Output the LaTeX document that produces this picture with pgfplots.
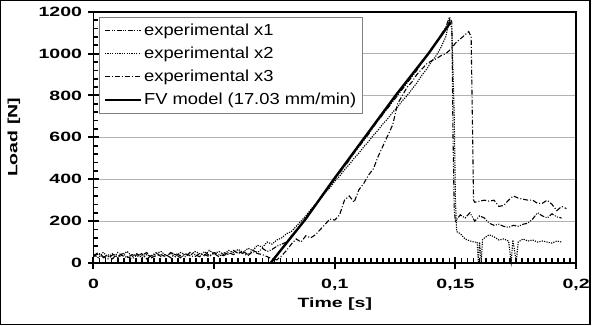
\documentclass[border=0pt]{standalone}
\usepackage{fontspec}
\setmainfont{Liberation Sans}
\newfontfamily\tickfont[FakeStretch=1.45]{Liberation Sans}
\newfontfamily\legfont[FakeStretch=1.15]{Liberation Sans}
\usepackage{pgfplots}
\usetikzlibrary{plotmarks}
\pgfplotsset{compat=1.18}
\begin{document}
\begin{tikzpicture}
\begin{axis}[
  width=484pt, height=252pt, scale only axis, clip=false,
  xmin=0, xmax=0.2, ymin=0, ymax=1200,
  xtick={0,0.05,0.1,0.15,0.2},
  xticklabels={0,{0,05},{0,1},{0,15},{0,2}},
  ytick={0,200,400,600,800,1000,1200},
  yticklabels={0,200,400,600,800,1000,1200},
  tick align=outside,
  xtick pos=bottom, ytick pos=left,
  major tick length=0pt, minor tick length=0pt,
  axis line style={line width=1.6pt},
  ymajorgrids, major grid style={gray!60, line width=0.9pt},
  tick label style={font=\tickfont\bfseries\fontsize{13.5}{15}\selectfont},
  xticklabel style={yshift=-13pt},
  yticklabel style={xshift=-8pt},
  label style={font=\tickfont\bfseries\fontsize{13.5}{15}\selectfont},
  xlabel={Time [s]}, ylabel={Load [N]},
  xlabel style={at={(axis description cs:0.5,-0.163)}, anchor=center},
  ylabel style={at={(axis description cs:-0.165,0.5)}, anchor=center},
  legend style={at={(rel axis cs:0.0124,0.98)}, anchor=north west,
    draw=gray, line width=0.8pt, fill=white,
    font=\legfont\fontsize{16}{17}\selectfont, row sep=6pt,
    inner xsep=4pt, inner ysep=5pt},
  legend cell align=left,
  legend image code/.code={\draw[#1] (0pt,0pt) -- (36pt,0pt);},
]
% tick marks (major crossing the axes, minor inside)
\addplot[draw=none, mark=|, mark size=6pt, mark options={solid, draw=black, line width=2pt}, forget plot] coordinates {
(0,0)(0.05,0)(0.1,0)(0.15,0)(0.2,0)};
\addplot[draw=none, mark=-, mark size=5.5pt, mark options={solid, draw=black, line width=2pt}, forget plot] coordinates {
(0,0)(0,200)(0,400)(0,600)(0,800)(0,1000)(0,1200)};
\addplot[draw=none, mark=|, mark size=2.6pt, mark options={solid, draw=black, line width=1.8pt}, forget plot] coordinates {
(0.0025,10)(0.005,10)(0.0075,10)(0.01,10)(0.0125,10)(0.015,10)(0.0175,10)(0.02,10)(0.0225,10)(0.025,10)
(0.0275,10)(0.03,10)(0.0325,10)(0.035,10)(0.0375,10)(0.04,10)(0.0425,10)(0.045,10)(0.0475,10)
(0.0525,10)(0.055,10)(0.0575,10)(0.06,10)(0.0625,10)(0.065,10)(0.0675,10)(0.07,10)(0.0725,10)(0.075,10)
(0.0775,10)(0.08,10)(0.0825,10)(0.085,10)(0.0875,10)(0.09,10)(0.0925,10)(0.095,10)(0.0975,10)
(0.1025,10)(0.105,10)(0.1075,10)(0.11,10)(0.1125,10)(0.115,10)(0.1175,10)(0.12,10)(0.1225,10)(0.125,10)
(0.1275,10)(0.13,10)(0.1325,10)(0.135,10)(0.1375,10)(0.14,10)(0.1425,10)(0.145,10)(0.1475,10)
(0.1525,10)(0.155,10)(0.1575,10)(0.16,10)(0.1625,10)(0.165,10)(0.1675,10)(0.17,10)(0.1725,10)(0.175,10)
(0.1775,10)(0.18,10)(0.1825,10)(0.185,10)(0.1875,10)(0.19,10)(0.1925,10)(0.195,10)(0.1975,10)
};
\addplot[draw=none, mark=-, mark size=2.8pt, mark options={solid, draw=black, line width=1.6pt}, forget plot] coordinates {
(0.0009,40)(0.0009,80)(0.0009,120)(0.0009,160)(0.0009,240)(0.0009,280)(0.0009,320)(0.0009,360)
(0.0009,440)(0.0009,480)(0.0009,520)(0.0009,560)(0.0009,640)(0.0009,680)(0.0009,720)(0.0009,760)
(0.0009,840)(0.0009,880)(0.0009,920)(0.0009,960)(0.0009,1040)(0.0009,1080)(0.0009,1120)(0.0009,1160)
};
% experimental x1
\addplot[black, line width=1.1pt, dash pattern=on 5pt off 1.5pt on 1pt off 1.5pt on 1pt off 1.5pt] coordinates {
(0,30)(0.002,45)(0.004,25)(0.006,40)(0.008,20)(0.010,50)(0.012,35)(0.014,25)(0.016,40)(0.018,30)
(0.020,45)(0.022,20)(0.024,35)(0.026,50)(0.028,30)(0.030,40)(0.032,25)(0.034,45)(0.036,35)(0.038,30)
(0.040,50)(0.042,40)(0.044,30)(0.046,55)(0.048,35)(0.050,45)(0.052,30)(0.054,50)(0.056,40)(0.058,60)
(0.060,45)(0.062,55)(0.064,40)(0.066,60)(0.068,50)(0.070,70)(0.072,55)(0.074,65)(0.076,80)
(0.078,90)(0.080,100)(0.082,130)(0.084,150)(0.086,185)(0.088,215)(0.090,250)(0.092,275)(0.094,310)
(0.096,340)(0.098,370)(0.100,400)(0.102,430)(0.104,460)(0.106,490)(0.108,525)(0.110,555)(0.112,585)
(0.114,615)(0.116,650)(0.118,680)(0.120,710)(0.122,740)(0.124,770)(0.126,800)(0.128,830)(0.130,860)
(0.132,890)(0.134,920)(0.136,955)(0.138,985)(0.140,1020)(0.142,1055)(0.144,1090)(0.146,1125)
(0.1475,1175)(0.1485,1150)(0.149,600)(0.1495,250)(0.150,200)
(0.152,230)(0.154,215)(0.156,240)(0.158,200)(0.160,225)(0.162,215)(0.164,190)(0.166,180)(0.168,185)
(0.170,175)(0.172,170)(0.174,180)(0.176,175)(0.178,185)(0.180,190)(0.182,210)(0.184,240)(0.186,225)
(0.188,215)(0.190,235)(0.192,220)(0.194,215)
};
\addlegendentry{experimental x1}
% experimental x2
\addplot[black, line width=1.1pt, dash pattern=on 1.2pt off 1.2pt] coordinates {
(0,40)(0.002,25)(0.004,50)(0.006,30)(0.008,45)(0.010,25)(0.012,40)(0.014,55)(0.016,30)(0.018,45)
(0.020,25)(0.022,40)(0.024,30)(0.026,45)(0.028,55)(0.030,35)(0.032,45)(0.034,30)(0.036,50)(0.038,40)
(0.040,35)(0.042,55)(0.044,45)(0.046,35)(0.048,60)(0.050,45)(0.052,55)(0.054,40)(0.056,60)(0.058,50)
(0.060,65)(0.062,50)(0.064,70)(0.066,60)(0.068,85)(0.070,75)(0.072,100)(0.074,90)(0.076,110)
(0.078,120)(0.080,140)(0.082,150)(0.084,175)(0.086,200)(0.088,225)(0.090,255)(0.092,280)(0.094,305)
(0.096,335)(0.098,360)(0.100,390)(0.102,415)(0.104,445)(0.106,470)(0.108,500)(0.110,525)(0.112,555)
(0.114,580)(0.116,610)(0.118,635)(0.120,665)(0.122,690)(0.124,720)(0.126,745)(0.128,775)(0.130,800)
(0.132,830)(0.134,860)(0.136,895)(0.138,925)(0.140,960)(0.142,990)(0.144,1030)(0.146,1080)
(0.1475,1160)(0.1485,1120)(0.1495,700)(0.150,300)(0.1505,150)
(0.152,140)(0.154,115)(0.156,105)(0.158,100)(0.159,100)(0.1595,5)(0.1600,100)(0.1607,5)(0.1612,110)
(0.162,120)(0.164,135)(0.166,125)(0.168,110)(0.170,115)(0.172,105)(0.1731,5)(0.1738,110)(0.1752,5)
(0.176,100)(0.178,115)(0.180,105)(0.182,110)(0.184,100)(0.186,105)(0.188,100)(0.190,95)(0.192,105)(0.194,100)
};
\addlegendentry{experimental x2}
% experimental x3
\addplot[black, line width=1.1pt, dash pattern=on 5pt off 2pt on 1pt off 2pt] coordinates {
(0,35)(0.002,50)(0.004,30)(0.006,20)(0.008,40)(0.010,30)(0.012,45)(0.014,30)(0.016,20)(0.018,40)
(0.020,35)(0.022,50)(0.024,25)(0.026,35)(0.028,40)(0.030,30)(0.032,50)(0.034,40)(0.036,25)(0.038,45)
(0.040,35)(0.042,30)(0.044,45)(0.046,40)(0.048,30)(0.050,50)(0.052,40)(0.054,35)(0.056,50)(0.058,40)
(0.060,55)(0.062,45)(0.064,35)(0.066,55)(0.068,45)(0.070,40)(0.072,30)(0.074,20)(0.076,15)
(0.078,35)(0.080,60)(0.082,90)(0.084,115)(0.086,100)(0.088,130)(0.090,120)(0.092,135)(0.094,160)
(0.096,185)(0.098,210)(0.100,205)(0.102,230)(0.104,300)(0.106,320)(0.108,290)(0.110,350)(0.112,380)
(0.114,420)(0.116,450)(0.118,510)(0.120,560)(0.122,610)(0.124,660)(0.126,760)(0.128,800)(0.130,840)
(0.132,865)(0.134,900)(0.136,925)(0.138,950)(0.140,965)(0.142,975)(0.144,990)(0.146,1000)(0.148,1020)
(0.150,1050)(0.152,1070)(0.154,1090)(0.1555,1105)(0.1565,1080)(0.157,700)(0.1575,300)(0.158,290)
(0.160,295)(0.162,300)(0.164,295)(0.166,300)(0.168,270)(0.170,275)(0.172,300)(0.174,320)(0.176,310)
(0.178,305)(0.180,300)(0.182,300)(0.184,285)(0.186,285)(0.188,300)(0.190,280)(0.192,250)(0.194,270)(0.196,260)
};
\addlegendentry{experimental x3}
% FV model
\addplot[black, line width=2.4pt] coordinates {
(0.0734,0)(0.0879,210)(0.0996,400)(0.1252,800)(0.1388,1000)(0.148,1150)
};
\addlegendentry{FV model (17.03 mm/min)}
\end{axis}
\draw[line width=1.5pt] ([shift={(-93pt,-61.5pt)}]current axis.south west) rectangle ([shift={(14pt,11pt)}]current axis.north east);
\end{tikzpicture}
\end{document}
